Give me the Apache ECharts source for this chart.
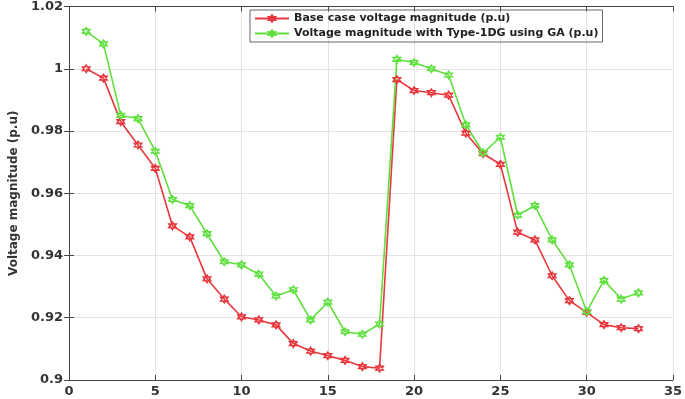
<!DOCTYPE html>
<html>
<head>
<meta charset="utf-8">
<script src="https://cdn.jsdelivr.net/npm/echarts@6/dist/echarts.min.js"></script>
<style>
  html, body { margin: 0; padding: 0; background: #fff; }
  #chart { width: 685px; height: 399px; }
</style>
</head>
<body>
<div id="chart"></div>
<script>
// bus numbers and voltage readings
var buses = [1,2,3,4,5,6,7,8,9,10,11,12,13,14,15,16,17,18,19,20,21,22,23,24,25,26,27,28,29,30,31,32,33];
var baseVoltage = [1.000,0.997,0.983,0.9755,0.968,0.9495,0.946,0.9325,0.926,0.9203,0.9193,0.9177,0.9117,0.9093,0.9078,0.9063,0.9043,0.9038,
                   0.9965,0.993,0.9923,0.9915,0.9793,0.9727,0.9693,0.9475,0.945,0.9335,0.9255,0.9217,0.9178,0.9168,0.9165];
var gaVoltage = [1.012,1.008,0.985,0.984,0.9735,0.958,0.956,0.947,0.938,0.937,0.934,0.927,0.929,0.9193,0.925,0.9155,0.9147,0.918,
                 1.003,1.002,1.000,0.998,0.982,0.973,0.978,0.953,0.956,0.945,0.937,0.922,0.932,0.926,0.928];
var seriesNames = ['Base case voltage magnitude (p.u)', 'Voltage magnitude with Type-1DG using GA (p.u)'];

var dom = document.getElementById('chart');
var myChart = echarts.init(dom);

var hexagram = 'path://M0,-10L8.66,5L-8.66,5Z M0,10L8.66,-5L-8.66,-5Z';

function pairs(vals) {
    return buses.map(function (b, i) { return [b, vals[i]]; });
}

var axisText = { color: '#333', fontWeight: 'bold', fontSize: 13, fontFamily: 'DejaVu Sans' };
var frame = { show: true, lineStyle: { color: '#444', width: 1 } };

var option = {
    animation: false,
    grid: { left: 59, right: 9, top: 6, bottom: 19 },
    legend: {
        orient: 'vertical',
        left: 250,
        top: 10,
        itemWidth: 34,
        itemHeight: 8,
        itemGap: 4,
        padding: [3, 4, 3, 4],
        borderColor: '#666',
        borderWidth: 1,
        textStyle: { color: '#222', fontWeight: 'bold', fontSize: 11, fontFamily: 'DejaVu Sans' },
        data: seriesNames
    },
    xAxis: [{
        type: 'value',
        min: 0, max: 35, interval: 5,
        axisLine: frame,
        axisTick: { show: true, inside: true, length: 5, lineStyle: { color: '#444' } },
        axisLabel: Object.assign({ margin: 5 }, axisText),
        splitLine: { show: true, lineStyle: { color: '#e3e3e3' } }
    }, {
        type: 'value', position: 'top',
        min: 0, max: 35, interval: 5,
        axisLine: frame,
        axisTick: { show: true, inside: true, length: 5, lineStyle: { color: '#444' } },
        axisLabel: { show: false },
        splitLine: { show: false }
    }],
    yAxis: [{
        type: 'value',
        min: 0.9, max: 1.02, interval: 0.02,
        name: 'Voltage magnitude (p.u)',
        nameLocation: 'middle',
        nameGap: 46,
        nameTextStyle: { color: '#333', fontWeight: 'bold', fontSize: 12, fontFamily: 'DejaVu Sans' },
        axisLine: frame,
        axisTick: { show: true, inside: true, length: 5, lineStyle: { color: '#444' } },
        axisLabel: Object.assign({
            margin: 6,
            formatter: function (v) { return parseFloat(v.toFixed(2)).toString(); }
        }, axisText),
        splitLine: { show: true, lineStyle: { color: '#e3e3e3' } }
    }, {
        type: 'value', position: 'right',
        min: 0.9, max: 1.02, interval: 0.02,
        axisLine: frame,
        axisTick: { show: true, inside: true, length: 5, lineStyle: { color: '#444' } },
        axisLabel: { show: false },
        splitLine: { show: false }
    }],
    series: [{
        name: seriesNames[0],
        type: 'line',
        data: pairs(baseVoltage),
        symbol: hexagram,
        symbolSize: 8,
        color: '#e8373d',
        lineStyle: { width: 1.6, color: '#e8373d' },
        itemStyle: { color: 'rgba(240,110,110,0.5)', borderColor: '#e8373d', borderWidth: 1.2 }
    }, {
        name: seriesNames[1],
        type: 'line',
        data: pairs(gaVoltage),
        symbol: hexagram,
        symbolSize: 8,
        color: '#5fe03e',
        lineStyle: { width: 1.6, color: '#5fe03e' },
        itemStyle: { color: 'rgba(130,235,100,0.5)', borderColor: '#5fe03e', borderWidth: 1.2 }
    }]
};

if (option && typeof option === 'object') {
    myChart.setOption(option);
}
</script>
</body>
</html>
